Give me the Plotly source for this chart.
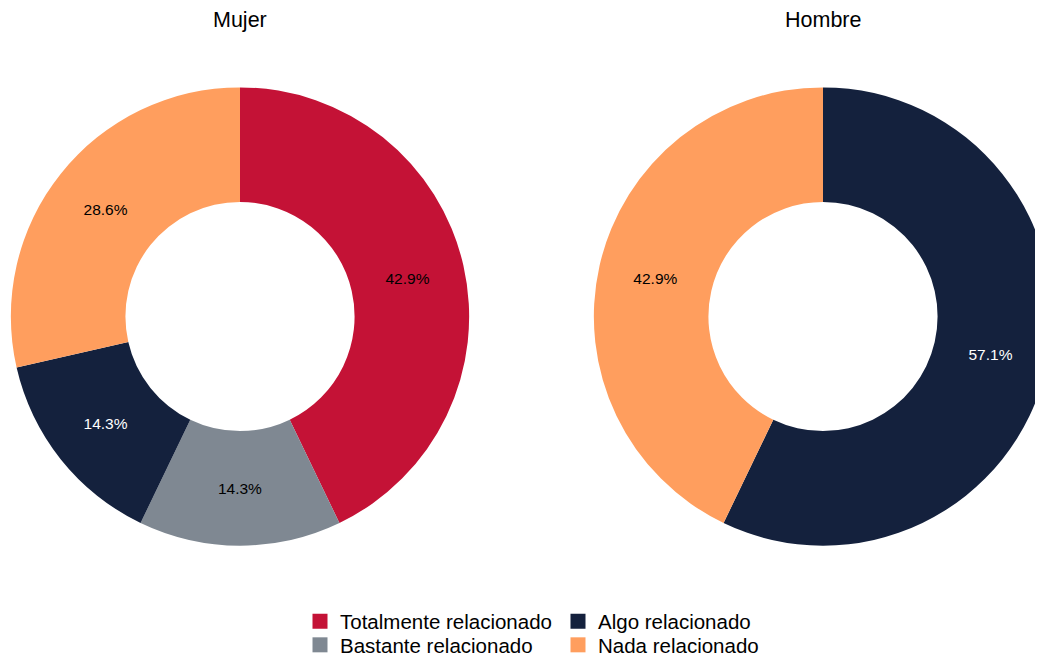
import plotly.graph_objects as go

# ---- data ----
categories = ["Totalmente relacionado", "Bastante relacionado", "Algo relacionado", "Nada relacionado"]
category_colors = ["#C41236", "#7F8892", "#14213D", "#FF9E5E"]
label_text_colors = ["#000000", "#000000", "#FFFFFF", "#000000"]

mujer_labels = ["Totalmente relacionado", "Bastante relacionado", "Algo relacionado", "Nada relacionado"]
mujer_values = [3, 1, 1, 2]

hombre_labels = ["Algo relacionado", "Nada relacionado"]
hombre_values = [4, 3]

panel_titles = ["Mujer", "Hombre"]
legend_rows = [["Totalmente relacionado", "Algo relacionado"],
               ["Bastante relacionado", "Nada relacionado"]]

# ---- layout geometry (pixels, page coordinates; the page body adds an 8px offset) ----
OFF = 8
W, H = 1063, 657
FONT = "Liberation Sans, Arial, sans-serif"
color_of = dict(zip(categories, category_colors))
txtcol_of = dict(zip(categories, label_text_colors))


def fx(px):
    return (px - OFF) / W


def fy(py):
    return 1 - (py - OFF) / H


def px_domain(cx, cy, r):
    return dict(x=[fx(cx - r), fx(cx + r)], y=[fy(cy + r), fy(cy - r)])


panels = [
    (mujer_labels, mujer_values, px_domain(240, 317, 229.5)),
    (hombre_labels, hombre_values, px_domain(823, 317, 229.5)),
]

fig = go.Figure()
for (labels, values, dom), title in zip(panels, panel_titles):
    fig.add_trace(go.Pie(
        labels=labels, values=values, hole=0.5, sort=False, direction="clockwise",
        rotation=0, domain=dom, showlegend=False,
        marker=dict(colors=[color_of[l] for l in labels], line=dict(width=0)),
        textinfo="percent", textposition="inside", insidetextorientation="horizontal",
        insidetextfont=dict(family=FONT, size=15.5, color=[txtcol_of[l] for l in labels]),
        hoverinfo="label+percent",
    ))
    fig.add_annotation(text=title, x=sum(dom["x"]) / 2, y=fy(20), xref="paper", yref="paper",
                       xanchor="center", yanchor="middle", showarrow=False,
                       font=dict(family=FONT, size=21.5, color="#000000"))

legend_names = ["legend", "legend2"]
for row, lname in zip(legend_rows, legend_names):
    for cat in row:
        fig.add_trace(go.Scatter(
            x=[None], y=[None], mode="markers", name=cat, legend=lname, showlegend=True,
            marker=dict(symbol="square", size=15, color=color_of[cat], line=dict(width=0)),
            hoverinfo="skip",
        ))

leg_common = dict(orientation="h", xanchor="left", yanchor="middle", x=fx(300),
                  bgcolor="rgba(0,0,0,0)", font=dict(family=FONT, size=20.5, color="#000000"),
                  entrywidth=213, entrywidthmode="pixels", itemclick=False, itemdoubleclick=False)

fig.update_layout(
    width=W, height=H,
    margin=dict(l=0, r=0, t=0, b=0),
    paper_bgcolor="white", plot_bgcolor="white",
    xaxis=dict(visible=False), yaxis=dict(visible=False),
    legend=dict(y=fy(621.5), **leg_common),
    legend2=dict(y=fy(645.5), **leg_common),
    font=dict(family=FONT),
)

fig.write_html("out.html")
